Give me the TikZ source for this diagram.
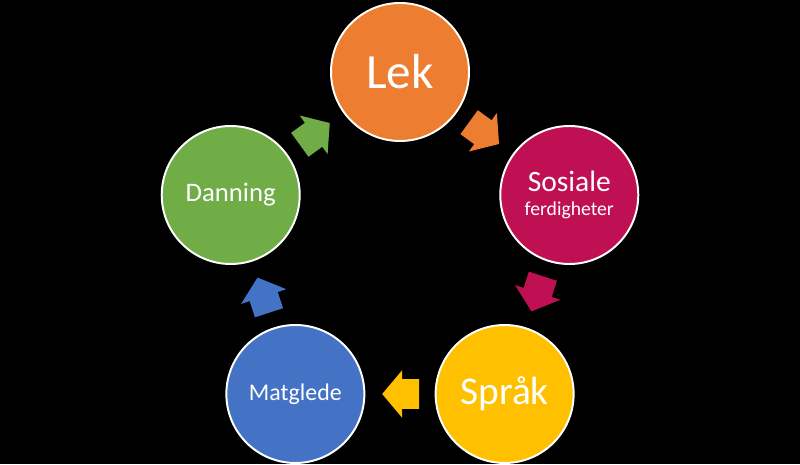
\documentclass[tikz,border=0pt]{standalone}
\usepackage{fontspec}
\setmainfont{Carlito}
\usetikzlibrary{shapes.arrows,calc}

\definecolor{lekfarge}{RGB}{237,125,49}
\definecolor{sosfarge}{RGB}{192,16,84}
\definecolor{sprfarge}{RGB}{255,192,0}
\definecolor{matfarge}{RGB}{68,114,196}
\definecolor{danfarge}{RGB}{112,173,71}

\tikzset{
  sirkel/.style={circle,draw=white,line width=1.4pt,minimum size=3.45cm,text=white,align=center,inner sep=0pt},
  pil/.style={single arrow,draw=none,minimum height=0.925cm,inner xsep=0pt,inner ysep=0.3625cm,single arrow head extend=0.225cm,single arrow tip angle=100}
}

\begin{document}
\begin{tikzpicture}
        \fill[black](0,0)rectangle(20,11.6);
        \useasboundingbox(0,0)rectangle(20,11.6);

        \node[sirkel,fill=lekfarge](lek)at(10,9.8){\fontsize{35}{40}\selectfont Lek};
        \node[sirkel,fill=sosfarge](sos)at(14.232,6.725){\fontsize{21}{17}\selectfont Sosiale\\[5pt]\fontsize{14}{17}\selectfont ferdigheter};
        \node[sirkel,fill=sprfarge](spr)at(12.616,1.75){\fontsize{28}{32}\selectfont Språk};
        \node[sirkel,fill=matfarge](mat)at(7.384,1.75){\fontsize{17}{20}\selectfont Matglede};
        \node[sirkel,fill=danfarge](dan)at(5.768,6.725){\fontsize{19}{23}\selectfont Danning};

        % piler mellom sirklene
        \node[pil,fill=lekfarge,rotate=-36](leksos)at($(lek)!0.467!(sos)$){};
        \node[pil,fill=sosfarge,rotate=-108](sosspr)at($(sos)!0.467!(spr)$){};
        \node[pil,fill=sprfarge,rotate=180](sprmat)at($(spr)!0.467!(mat)$){};
        \node[pil,fill=matfarge,rotate=108](matdan)at($(mat)!0.467!(dan)$){};
        \node[pil,fill=danfarge,rotate=36](danlek)at($(dan)!0.467!(lek)$){};
\end{tikzpicture}
\end{document}
